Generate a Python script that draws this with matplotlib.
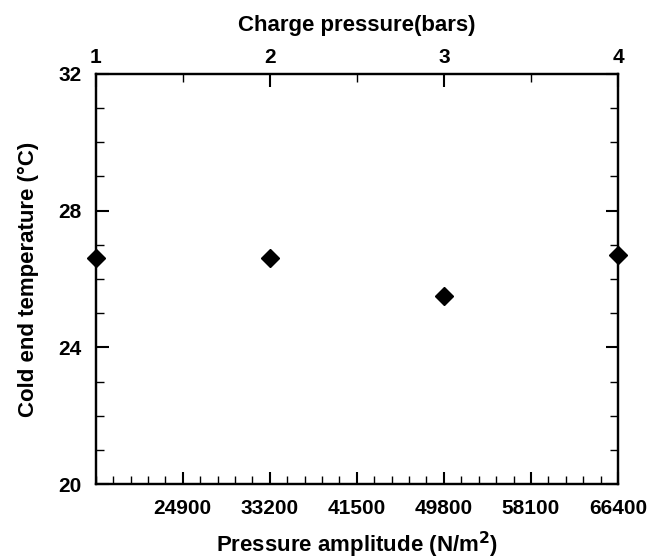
import numpy as np
import matplotlib.pyplot as plt
from matplotlib.ticker import MultipleLocator

plt.rcParams['font.family'] = ['Liberation Sans', 'DejaVu Sans']
plt.rcParams['font.size'] = 15
plt.rcParams['font.weight'] = 'bold'
plt.rcParams['axes.labelweight'] = 'bold'
plt.rcParams['mathtext.default'] = 'bf'

amplitude = [16600, 33200, 49800, 66400]
cold_temp = [26.6, 26.6, 25.5, 26.7]
amp_ticks = [24900, 33200, 41500, 49800, 58100, 66400]
charge_ticks = [1, 2, 3, 4]

fig = plt.figure(figsize=(6.56, 5.59), dpi=100)
ax = fig.add_axes([0.146, 0.134, 0.796, 0.734])

ax.plot(amplitude, cold_temp, 'D', color='black', ms=9.5, clip_on=False, zorder=5)

ax.set_xlim(16600, 66400)
ax.set_ylim(20, 32)
ax.set_xticks(amp_ticks)
ax.xaxis.set_minor_locator(MultipleLocator(1660))
ax.set_yticks([20, 24, 28, 32])
ax.yaxis.set_minor_locator(MultipleLocator(1))

for s in ax.spines.values():
    s.set_linewidth(1.6)

ax.tick_params(which='major', direction='in', length=9, width=1.5, right=True,
               labelsize=15)
ax.tick_params(which='minor', direction='in', length=5.5, width=1.0, right=True)
ax.tick_params(axis='x', which='major', pad=11)
ax.tick_params(axis='y', which='major', pad=10)

ax.set_xlabel('Pressure amplitude (N/m$^2$)', fontsize=16, labelpad=8)
ax.set_ylabel('Cold end temperature (\u00b0C)', fontsize=16, labelpad=14)

top = ax.twiny()
top.set_xlim(1, 4)
top.set_xticks(charge_ticks)
top.xaxis.set_minor_locator(MultipleLocator(0.5))
top.tick_params(which='major', direction='in', length=9, width=1.5, pad=5, labelsize=15)
top.tick_params(which='minor', direction='in', length=5.5, width=1.0)
top.set_xlabel('Charge pressure(bars)', fontsize=16, labelpad=12)
for s in top.spines.values():
    s.set_linewidth(1.6)

fig.savefig('out.png', dpi=100)
